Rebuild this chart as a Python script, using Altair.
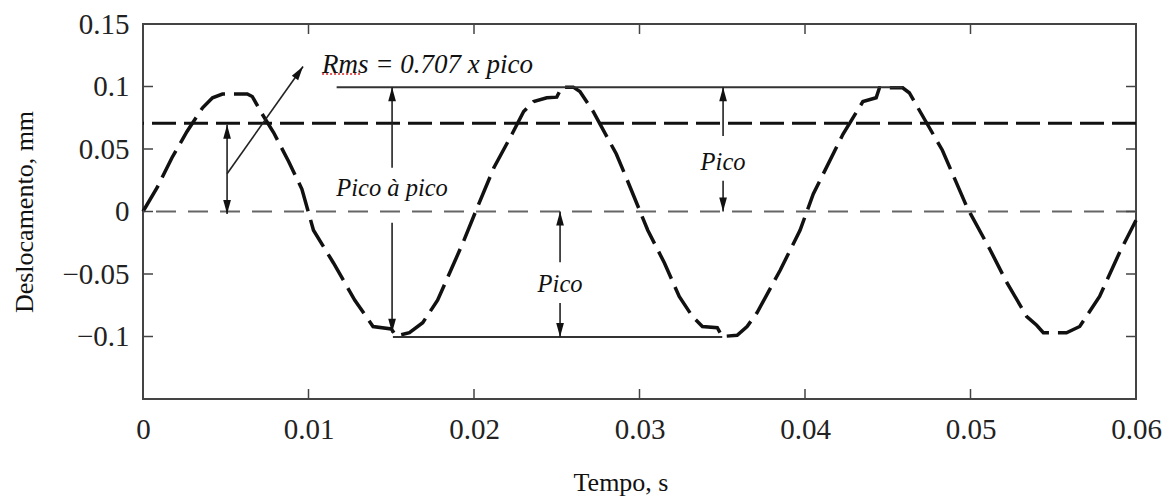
import altair as alt
import pandas as pd

# ---- data ----
T = [0, 0.00085, 0.00175, 0.00266, 0.0036, 0.0042, 0.0048, 0.0063, 0.0066, 0.0072,
     0.0079, 0.0088, 0.0096, 0.0103, 0.0115, 0.0128, 0.0139, 0.0150, 0.0153, 0.0161,
     0.0169, 0.0178, 0.0193, 0.0201, 0.0212, 0.0223, 0.0230, 0.0236, 0.0244, 0.0250,
     0.0253, 0.0260, 0.0264, 0.0272, 0.0286, 0.0292, 0.0305, 0.0315, 0.0324, 0.0332,
     0.0338, 0.0347, 0.0350, 0.0359, 0.0365, 0.0371, 0.0385, 0.0397, 0.0405, 0.0411,
     0.0423, 0.0435, 0.0443, 0.0445, 0.0459, 0.0463, 0.0473, 0.0483, 0.0498, 0.0512,
     0.0522, 0.0534, 0.0540, 0.0544, 0.0558, 0.0566, 0.0578, 0.0590, 0.0600]
DISP = [0, 0.019, 0.043, 0.064, 0.083, 0.091, 0.094, 0.094, 0.092, 0.078,
        0.063, 0.040, 0.018, -0.015, -0.041, -0.071, -0.092, -0.094, -0.0995, -0.097,
        -0.089, -0.071, -0.026, 0.0, 0.035, 0.062, 0.080, 0.088, 0.091, 0.0915,
        0.0995, 0.0995, 0.096, 0.080, 0.046, 0.027, -0.015, -0.041, -0.068, -0.084,
        -0.092, -0.093, -0.100, -0.099, -0.092, -0.081, -0.047, -0.015, 0.014, 0.030,
        0.062, 0.088, 0.091, 0.099, 0.099, 0.095, 0.072, 0.049, 0.003, -0.031,
        -0.057, -0.084, -0.091, -0.097, -0.097, -0.092, -0.068, -0.033, -0.007]

RMS_LEVEL = [0.0707]
ZERO_LEVEL = [0.0]

# horizontal peak reference lines: start, end, level
PEAK_X0 = [0.0117, 0.0151]
PEAK_X1 = [0.0459, 0.0350]
PEAK_Y = [0.0995, -0.1003]

# arrow shafts (vertical): x, y-from, y-to
SHAFT_X = [0.00508, 0.01505, 0.01505, 0.03505, 0.03505, 0.0252, 0.0252]
SHAFT_Y0 = [0.0695, 0.0995, -0.009, 0.0995, 0.0247, 0.0, -0.0732]
SHAFT_Y1 = [-0.002, 0.035, -0.097, 0.0605, 0.0, -0.0406, -0.1003]

# diagonal arrow
DIAG_X = [0.00508, 0.00967]
DIAG_Y = [0.0302, 0.1160]

# arrow heads
UP_X = [0.00508, 0.01505, 0.03505, 0.0252]
UP_Y = [0.0695, 0.0995, 0.0995, 0.0]
DOWN_X = [0.00508, 0.01505, 0.03505, 0.0252]
DOWN_Y = [-0.002, -0.097, 0.0, -0.1003]

# labels
LABELS = ["Rms = 0.707 x pico", "Pico à pico", "Pico", "Pico"]
LABEL_X = [0.01082, 0.01505, 0.03505, 0.0252]
LABEL_Y = [0.1175, 0.0183, 0.039, -0.0589]
LABEL_ALIGN = ["left", "center", "center", "center"]

X_TICKS = [0, 0.01, 0.02, 0.03, 0.04, 0.05, 0.06]
Y_TICKS = [-0.1, -0.05, 0, 0.05, 0.1, 0.15]
X_INNER = [0.01, 0.02, 0.03, 0.04, 0.05]
Y_INNER = [-0.1, -0.05, 0, 0.05, 0.1]

W, H = 993, 375
SERIF = "Liberation Serif"
INK = "#111111"
FRAME = "#444444"

xs = alt.Scale(domain=[0, 0.06], nice=False, zero=False)
ys = alt.Scale(domain=[-0.15, 0.15], nice=False, zero=False)

XA = alt.Axis(values=X_TICKS, format="~f", title="Tempo, s", labelPadding=16,
              labelFlush=False, titlePadding=25, titleX=W / 2 - 19)
YA = alt.Axis(values=Y_TICKS, format="~f", title="Deslocamento, mm", labelPadding=14,
              labelFlush=False, titlePadding=24)


def X(f):
    return alt.X(f, scale=xs, axis=XA)


def Y(f):
    return alt.Y(f, scale=ys, axis=YA)


curve_df = pd.DataFrame({"t": T, "d": DISP})
curve = alt.Chart(curve_df).mark_line(color=INK, strokeWidth=3.5, strokeDash=[30, 9]).encode(
    x=X("t:Q"), y=Y("d:Q"))

rms = alt.Chart(pd.DataFrame({"v": RMS_LEVEL})).mark_rule(
    color=INK, strokeWidth=3, strokeDash=[24, 8]).encode(y=Y("v:Q"))

zero = alt.Chart(pd.DataFrame({"v": ZERO_LEVEL})).mark_rule(
    color="#666666", strokeWidth=2, strokeDash=[20, 12]).encode(y=Y("v:Q"))

peaks = alt.Chart(pd.DataFrame({"x0": PEAK_X0, "x1": PEAK_X1, "y": PEAK_Y})).mark_rule(
    color="#333333", strokeWidth=2).encode(x=X("x0:Q"), x2="x1:Q", y=Y("y:Q"))

shafts = alt.Chart(pd.DataFrame({"x": SHAFT_X, "y0": SHAFT_Y0, "y1": SHAFT_Y1})).mark_rule(
    color="#222222", strokeWidth=1.6).encode(x=X("x:Q"), y=Y("y0:Q"), y2="y1:Q")

diag = alt.Chart(pd.DataFrame({"x": DIAG_X, "y": DIAG_Y})).mark_line(
    color="#222222", strokeWidth=1.6).encode(x=X("x:Q"), y=Y("y:Q"))

UP_PATH = "M0,0L0.55,2L-0.55,2Z"
DOWN_PATH = "M0,0L0.55,-2L-0.55,-2Z"

up_heads = alt.Chart(pd.DataFrame({"x": UP_X, "y": UP_Y})).mark_point(
    shape=UP_PATH, filled=True, color="#111111", size=196, opacity=1).encode(
    x=X("x:Q"), y=Y("y:Q"))

down_heads = alt.Chart(pd.DataFrame({"x": DOWN_X, "y": DOWN_Y})).mark_point(
    shape=DOWN_PATH, filled=True, color="#111111", size=196, opacity=1).encode(
    x=X("x:Q"), y=Y("y:Q"))

diag_head = alt.Chart(pd.DataFrame({"x": DIAG_X[1:], "y": DIAG_Y[1:]})).mark_point(
    shape=UP_PATH, filled=True, color="#111111", size=196, opacity=1, angle=35).encode(
    x=X("x:Q"), y=Y("y:Q"))

label_df = pd.DataFrame({"x": LABEL_X, "y": LABEL_Y, "txt": LABELS, "al": LABEL_ALIGN})
labels_left = alt.Chart(label_df[label_df.al == "left"]).mark_text(
    font=SERIF, fontStyle="italic", fontSize=27, color="#111111", align="left",
    baseline="middle").encode(x=X("x:Q"), y=Y("y:Q"), text="txt:N")
labels_center = alt.Chart(label_df[label_df.al == "center"]).mark_text(
    font=SERIF, fontStyle="italic", fontSize=24.5, color="#111111", align="center",
    baseline="middle").encode(x=X("x:Q"), y=Y("y:Q"), text="txt:N")

# red spell-check underline under "Rms"
spell = alt.Chart(pd.DataFrame({"x0": [0.01082], "x1": [0.0132], "y": [0.1100]})).mark_rule(
    color="#e02020", strokeWidth=1.5, strokeDash=[2, 2]).encode(
    x=X("x0:Q"), x2="x1:Q", y=Y("y:Q"))

# inward ticks on all four sides
xt_df = pd.DataFrame({"v": X_INNER})
yt_df = pd.DataFrame({"v": Y_INNER})
tick_style = dict(color=FRAME, strokeWidth=1.5)
bottom_ticks = alt.Chart(xt_df).mark_rule(**tick_style).encode(
    x=X("v:Q"), y=alt.value(H), y2=alt.value(H - 10))
top_ticks = alt.Chart(xt_df).mark_rule(**tick_style).encode(
    x=X("v:Q"), y=alt.value(0), y2=alt.value(10))
left_ticks = alt.Chart(yt_df).mark_rule(**tick_style).encode(
    y=Y("v:Q"), x=alt.value(0), x2=alt.value(10))
right_ticks = alt.Chart(yt_df).mark_rule(**tick_style).encode(
    y=Y("v:Q"), x=alt.value(W), x2=alt.value(W - 10))

chart = alt.layer(
    curve, zero, rms, peaks, shafts, diag, up_heads, down_heads, diag_head,
    labels_left, labels_center, spell, bottom_ticks, top_ticks, left_ticks, right_ticks,
).properties(
    width=W, height=H,
    autosize="none",
    padding={"left": 135, "top": 16, "right": 30, "bottom": 100},
    background="white",
).configure_view(
    stroke=FRAME, strokeWidth=2,
).configure_axis(
    domain=False, ticks=False, grid=False,
    labelFont=SERIF, labelFontSize=29, labelColor="#222222",
    titleFont=SERIF, titleFontSize=26, titleFontWeight="normal", titleColor="#111111",
)

chart.save("out.html", embed_options={"renderer": "svg", "actions": False})
